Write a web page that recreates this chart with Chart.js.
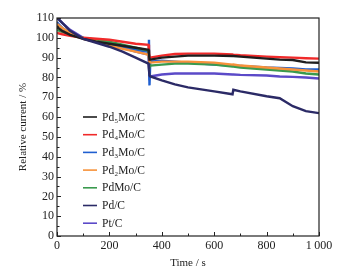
<!DOCTYPE html>
<html>
<head>
<meta charset="utf-8">
<script src="https://cdn.jsdelivr.net/npm/chart.js@4/dist/chart.umd.min.js"></script>
<style>
  html, body { margin: 0; padding: 0; background: #fff; }
  #wrap { width: 342px; height: 270px; }
</style>
</head>
<body>
<div id="wrap"><canvas id="myChart" width="342" height="270"></canvas></div>
<script>
// time axis (s)
const times = [0, 5, 20, 50, 100, 150, 200, 250, 300, 349, 351, 353, 356, 400, 450, 500, 600, 670, 673, 700, 800, 850, 900, 950, 1000];

// relative current (%)
const pd5mo = [106, 105, 103.5, 101.5, 99.5, 98, 97, 96, 95, 94, 92, 89, 89, 90, 90.5, 91, 91, 90.8, 90.8, 90.5, 89.5, 89, 88.8, 87.6, 87.4];
const pd4mo = [102.5, 102.3, 101.8, 101, 100, 99.5, 99, 98, 97, 96.5, 93, 89.5, 90, 91, 91.8, 92, 92, 91.6, 91.5, 91.2, 90.5, 90.2, 90, 89.7, 89.5];
const pd3mo = [108, 107, 105, 102.5, 100, 98.5, 97, 95.5, 94, 93, 99, 76, 88, 88.5, 88, 87.5, 86.5, 86, 86, 85.8, 85, 84.8, 84.5, 84, 84];
const pd2mo = [107, 106.5, 105, 102.5, 99.5, 98, 96, 94.5, 93, 91.5, 90, 88, 87.5, 88, 88, 88, 87.5, 86.5, 86.5, 86, 85, 84.5, 84, 83.5, 83];
const pdmo = [104, 103.8, 103, 101.5, 100, 99, 98, 96.5, 95, 93.5, 90, 85, 86, 86.5, 87, 87, 86.5, 85.5, 85.5, 85, 84, 83.5, 83, 82, 81.5];
const pdc = [110, 109.5, 107.5, 103.5, 99.5, 97.5, 95.5, 93, 90, 87, 84, 81, 80.5, 78.5, 76.5, 75, 73, 71.5, 73.8, 73, 70.5, 69.5, 65.5, 63, 62];
const ptc = [110, 109.5, 107.5, 104, 100, 98, 96.5, 95, 93, 91.5, 85, 80, 80.5, 81.5, 82, 82, 82, 81.5, 81.5, 81.3, 81, 80.5, 80.3, 80, 79.5];

const labels = ["Pd\u2085Mo/C", "Pd\u2084Mo/C", "Pd\u2083Mo/C", "Pd\u2082Mo/C", "PdMo/C", "Pd/C", "Pt/C"];
const series = [pd5mo, pd4mo, pd3mo, pd2mo, pdmo, pdc, ptc];
const colores = ["#1e1e1e", "#f02a2a", "#1f5fd0", "#f7923a", "#3a9a4e", "#2b2a66", "#5b4ac8"];

const xTicks = [0, 200, 400, 600, 800, 1000];
const yTicks = [0, 10, 20, 30, 40, 50, 60, 70, 80, 90, 100, 110];

const serif = "'Liberation Serif', 'DejaVu Serif', serif";

// draw order: last listed ends up on top in the picture
const order = [5, 0, 1, 3, 4, 2, 6];

const datasets = series.map((vals, i) => ({
  label: labels[i],
  data: vals.map((v, k) => ({ x: times[k], y: v })),
  borderColor: colores[i],
  backgroundColor: colores[i],
  borderWidth: 2.4,
  pointRadius: 0,
  tension: 0,
  fill: false,
  order: order.indexOf(i),
}));

// box, inward ticks and the legend in the plot
const frame = {
  id: "frame",
  afterDraw(chart) {
    const ctx = chart.ctx;
    const a = chart.chartArea;
    const xs = chart.scales.x;
    const ys = chart.scales.y;
    ctx.save();
    ctx.strokeStyle = "#222";
    ctx.lineWidth = 1.2;
    ctx.strokeRect(a.left, a.top, a.right - a.left, a.bottom - a.top);
    ctx.lineWidth = 1;
    ctx.beginPath();
    for (let t = 0; t <= 1000; t += 100) {
      const px = Math.round(xs.getPixelForValue(t)) + 0.5;
      const len = t % 200 === 0 ? 4 : 2.5;
      ctx.moveTo(px, a.bottom);
      ctx.lineTo(px, a.bottom - len);
    }
    for (let v = 0; v <= 110; v += 5) {
      const py = Math.round(ys.getPixelForValue(v)) + 0.5;
      const len = v % 10 === 0 ? 4 : 2.5;
      ctx.moveTo(a.left, py);
      ctx.lineTo(a.left + len, py);
    }
    ctx.stroke();

    // legend
    ctx.font = "11.5px " + serif;
    ctx.textBaseline = "middle";
    chart.data.datasets.forEach((ds, i) => {
      const y = 117 + i * 17.7;
      ctx.strokeStyle = ds.borderColor;
      ctx.lineWidth = 1.6;
      ctx.beginPath();
      ctx.moveTo(83, y);
      ctx.lineTo(97, y);
      ctx.stroke();
      ctx.fillStyle = "#222";
      ctx.fillText(ds.label, 102, y + 0.5);
    });
    ctx.restore();
  },
};

const chart = new Chart("myChart", {
  type: "line",
  data: { datasets: datasets },
  options: {
    responsive: false,
    animation: false,
    layout: { padding: { top: 18, right: 23, left: 17, bottom: 0 } },
    plugins: { legend: { display: false }, tooltip: { enabled: false } },
    scales: {
      x: {
        type: "linear",
        min: 0,
        max: 1000,
        grid: { display: false, drawTicks: false },
        border: { display: false },
        afterBuildTicks: (s) => { s.ticks = xTicks.map((v) => ({ value: v })); },
        afterFit: (s) => { s.height = 34; },
        ticks: {
          padding: 3,
          maxRotation: 0,
          color: "#222",
          font: { family: serif, size: 12 },
          callback: (v) => (v === 1000 ? "1\u2009000" : String(v)),
        },
        title: {
          display: true,
          text: "Time / s",
          color: "#222",
          padding: { top: -2, bottom: 0 },
          font: { family: serif, size: 11 },
        },
      },
      y: {
        min: 0,
        max: 110,
        grid: { display: false, drawTicks: false },
        border: { display: false },
        afterBuildTicks: (s) => { s.ticks = yTicks.map((v) => ({ value: v })); },
        afterFit: (s) => { s.width = 40; },
        ticks: {
          padding: 3,
          color: "#222",
          font: { family: serif, size: 12 },
        },
        title: {
          display: true,
          text: "Relative current / %",
          color: "#222",
          padding: { top: 0, bottom: 0 },
          font: { family: serif, size: 11 },
        },
      },
    },
  },
  plugins: [frame],
});
</script>
</body>
</html>
